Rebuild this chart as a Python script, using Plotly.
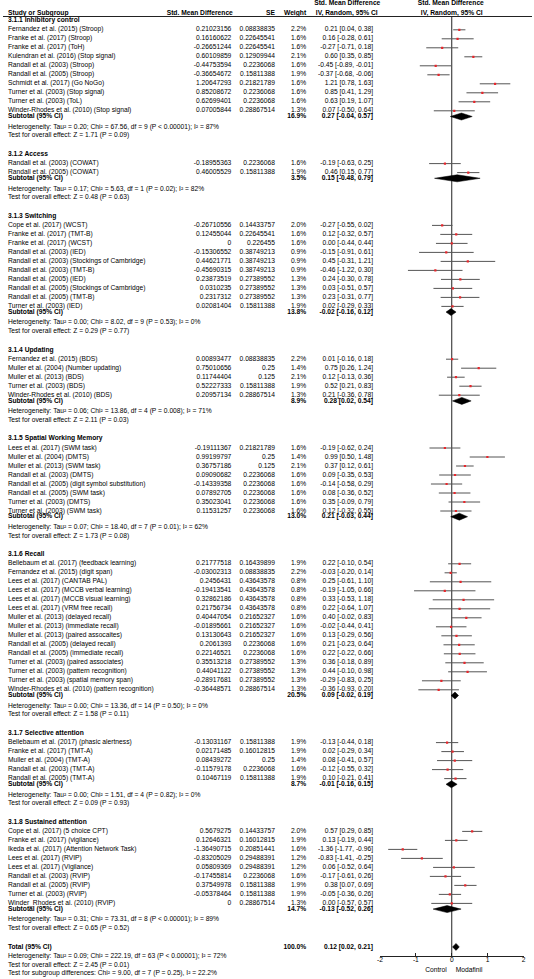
import plotly.graph_objects as go

# ---------------- data ----------------
section_titles = [
    "3.1.1 Inhibitory control", "3.1.2 Access", "3.1.3 Switching", "3.1.4 Updating",
    "3.1.5 Spatial Working Memory", "3.1.6 Recall", "3.1.7 Selective attention",
    "3.1.8 Sustained attention",
]
section_sizes = [10, 2, 10, 5, 8, 15, 5, 9]

study_names = [
    # 3.1.1
    "Fernandez et al. (2015) (Stroop)", "Franke et al. (2017) (Stroop)", "Franke et al. (2017) (ToH)",
    "Kulendran et al. (2016) (Stop signal)", "Randall et al. (2003) (Stroop)", "Randall et al. (2005) (Stroop)",
    "Schmidt et al. (2017) (Go NoGo)", "Turner et al. (2003) (Stop signal)", "Turner et al. (2003) (ToL)",
    "Winder-Rhodes et al. (2010) (Stop signal)",
    # 3.1.2
    "Randall et al. (2003) (COWAT)", "Randall et al. (2005) (COWAT)",
    # 3.1.3
    "Cope et al. (2017) (WCST)", "Franke et al. (2017) (TMT-B)", "Franke et al. (2017) (WCST)",
    "Randall et al. (2003) (IED)", "Randall et al. (2003) (Stockings of Cambridge)", "Randall et al. (2003) (TMT-B)",
    "Randall et al. (2005) (IED)", "Randall et al. (2005) (Stockings of Cambridge)", "Randall et al. (2005) (TMT-B)",
    "Turner et al. (2003) (IED)",
    # 3.1.4
    "Fernandez et al. (2015) (BDS)", "Muller et al. (2004) (Number updating)", "Muller et al. (2013) (BDS)",
    "Turner et al. (2003) (BDS)", "Winder-Rhodes et al. (2010) (BDS)",
    # 3.1.5
    "Lees et al. (2017) (SWM task)", "Muller et al. (2004) (DMTS)", "Muller et al. (2013) (SWM task)",
    "Randall et al. (2003) (DMTS)", "Randall et al. (2005) (digit symbol substitution)",
    "Randall et al. (2005) (SWM task)", "Turner et al. (2003) (DMTS)", "Turner et al. (2003) (SWM task)",
    # 3.1.6
    "Bellebaum et al. (2017) (feedback learning)", "Fernandez et al. (2015) (digit span)",
    "Lees et al. (2017) (CANTAB PAL)", "Lees et al. (2017) (MCCB verbal learning)",
    "Lees et al. (2017) (MCCB visual learning)", "Lees et al. (2017) (VRM free recall)",
    "Muller et al. (2013) (delayed recall)", "Muller et al. (2013) (immediate recall)",
    "Muller et al. (2013) (paired assocaites)", "Randall et al. (2005) (delayed recall)",
    "Randall et al. (2005) (immediate recall)", "Turner et al. (2003) (paired associates)",
    "Turner et al. (2003) (pattern recognition)", "Turner et al. (2003) (spatial memory span)",
    "Winder-Rhodes et al. (2010) (pattern recognition)",
    # 3.1.7
    "Bellebaum et al. (2017) (phasic alertness)", "Franke et al. (2017) (TMT-A)", "Muller et al. (2004) (TMT-A)",
    "Randall et al. (2003) (TMT-A)", "Randall et al. (2005) (TMT-A)",
    # 3.1.8
    "Cope et al. (2017) (5 choice CPT)", "Franke et al. (2017) (vigilance)",
    "Ikeda et al. (2017) (Attention Network Task)", "Lees et al. (2017) (RVIP)", "Lees et al. (2017) (Vigilance)",
    "Randall et al. (2003) (RVIP)", "Randall et al. (2005) (RVIP)", "Turner et al. (2003) (RVIP)",
    "Winder_Rhodes et al. (2010) (RVIP)",
]

smd = [
    0.21023156, 0.16160622, -0.26651244, 0.60109859, -0.44753594, -0.36654672, 1.20647293, 0.85208672,
    0.62699401, 0.07005844,
    -0.18955363, 0.46005529,
    -0.26710556, 0.12455044, 0, -0.15306552, 0.44621771, -0.45690315, 0.23873519, 0.0310235, 0.2317312,
    0.02081404,
    0.00893477, 0.75010656, 0.11744404, 0.52227333, 0.20957134,
    -0.19111367, 0.99199797, 0.36757186, 0.09090682, -0.14339358, 0.07892705, 0.35023041, 0.11531257,
    0.21777518, -0.03002313, 0.2456431, -0.19413541, 0.32862186, 0.21756734, 0.40447054, -0.01895661,
    0.13130643, 0.2061393, 0.22146521, 0.35513218, 0.44041122, -0.28917681, -0.36448571,
    -0.13031167, 0.02171485, 0.08439272, -0.11579178, 0.10467119,
    0.5679275, 0.12646321, -1.36490715, -0.83205029, 0.05809369, -0.17455814, 0.37549978, -0.05378464, 0,
]

se = [
    0.08838835, 0.22645541, 0.22645541, 0.12909944, 0.2236068, 0.15811388, 0.21821789, 0.2236068,
    0.2236068, 0.28867514,
    0.2236068, 0.15811388,
    0.14433757, 0.22645541, 0.226455, 0.38749213, 0.38749213, 0.38749213, 0.27389552, 0.27389552, 0.27389552,
    0.15811388,
    0.08838835, 0.25, 0.125, 0.15811388, 0.28867514,
    0.21821789, 0.25, 0.125, 0.2236068, 0.2236068, 0.2236068, 0.2236068, 0.2236068,
    0.16439899, 0.08838835, 0.43643578, 0.43643578, 0.43643578, 0.43643578, 0.21652327, 0.21652327,
    0.21652327, 0.2236068, 0.2236068, 0.27389552, 0.27389552, 0.27389552, 0.28867514,
    0.15811388, 0.16012815, 0.25, 0.2236068, 0.15811388,
    0.14433757, 0.16012815, 0.20851441, 0.29488391, 0.29488391, 0.2236068, 0.15811388, 0.15811388, 0.28867514,
]

weight = [
    2.2, 1.6, 1.6, 2.1, 1.6, 1.9, 1.6, 1.6, 1.6, 1.3,
    1.6, 1.9,
    2.0, 1.6, 1.6, 0.9, 0.9, 0.9, 1.3, 1.3, 1.3, 1.9,
    2.2, 1.4, 2.1, 1.9, 1.3,
    1.6, 1.4, 2.1, 1.6, 1.6, 1.6, 1.6, 1.6,
    1.9, 2.2, 0.8, 0.8, 0.8, 0.8, 1.6, 1.6, 1.6, 1.6, 1.6, 1.3, 1.3, 1.3, 1.3,
    1.9, 1.9, 1.4, 1.6, 1.9,
    2.0, 1.9, 1.6, 1.2, 1.2, 1.6, 1.9, 1.9, 1.3,
]

ci_low = [
    0.04, -0.28, -0.71, 0.35, -0.89, -0.68, 0.78, 0.41, 0.19, -0.50,
    -0.63, 0.15,
    -0.55, -0.32, -0.44, -0.91, -0.31, -1.22, -0.30, -0.51, -0.31, -0.29,
    -0.16, 0.26, -0.13, 0.21, -0.36,
    -0.62, 0.50, 0.12, -0.35, -0.58, -0.36, -0.09, -0.32,
    -0.10, -0.20, -0.61, -1.05, -0.53, -0.64, -0.02, -0.44, -0.29, -0.23, -0.22, -0.18, -0.10, -0.83, -0.93,
    -0.44, -0.29, -0.41, -0.55, -0.21,
    0.29, -0.19, -1.77, -1.41, -0.52, -0.61, 0.07, -0.36, -0.57,
]

ci_high = [
    0.38, 0.61, 0.18, 0.85, -0.01, -0.06, 1.63, 1.29, 1.07, 0.64,
    0.25, 0.77,
    0.02, 0.57, 0.44, 0.61, 1.21, 0.30, 0.78, 0.57, 0.77, 0.33,
    0.18, 1.24, 0.36, 0.83, 0.78,
    0.24, 1.48, 0.61, 0.53, 0.29, 0.52, 0.79, 0.55,
    0.54, 0.14, 1.10, 0.66, 1.18, 1.07, 0.83, 0.41, 0.56, 0.64, 0.66, 0.89, 0.98, 0.25, 0.20,
    0.18, 0.34, 0.57, 0.32, 0.41,
    0.85, 0.44, -0.96, -0.25, 0.64, 0.26, 0.69, 0.26, 0.57,
]

sub_weight = [16.9, 3.5, 13.8, 8.9, 13.0, 20.5, 8.7, 14.7]
sub_est = [0.27, 0.15, -0.02, 0.28, 0.21, 0.09, -0.01, -0.13]
sub_low = [-0.04, -0.48, -0.16, 0.02, -0.03, -0.02, -0.16, -0.52]
sub_high = [0.57, 0.79, 0.12, 0.54, 0.44, 0.19, 0.15, 0.26]

heterogeneity = [
    "Heterogeneity: Tau² = 0.20; Chi² = 67.56, df = 9 (P < 0.00001); I² = 87%",
    "Heterogeneity: Tau² = 0.17; Chi² = 5.63, df = 1 (P = 0.02); I² = 82%",
    "Heterogeneity: Tau² = 0.00; Chi² = 8.02, df = 9 (P = 0.53); I² = 0%",
    "Heterogeneity: Tau² = 0.06; Chi² = 13.86, df = 4 (P = 0.008); I² = 71%",
    "Heterogeneity: Tau² = 0.07; Chi² = 18.40, df = 7 (P = 0.01); I² = 62%",
    "Heterogeneity: Tau² = 0.00; Chi² = 13.36, df = 14 (P = 0.50); I² = 0%",
    "Heterogeneity: Tau² = 0.00; Chi² = 1.51, df = 4 (P = 0.82); I² = 0%",
    "Heterogeneity: Tau² = 0.31; Chi² = 73.31, df = 8 (P < 0.00001); I² = 89%",
]
overall_tests = [
    "Test for overall effect: Z = 1.71 (P = 0.09)",
    "Test for overall effect: Z = 0.48 (P = 0.63)",
    "Test for overall effect: Z = 0.29 (P = 0.77)",
    "Test for overall effect: Z = 2.11 (P = 0.03)",
    "Test for overall effect: Z = 1.73 (P = 0.08)",
    "Test for overall effect: Z = 1.58 (P = 0.11)",
    "Test for overall effect: Z = 0.09 (P = 0.93)",
    "Test for overall effect: Z = 0.65 (P = 0.52)",
]

total_weight = 100.0
total_est, total_low, total_high = 0.12, 0.02, 0.21
total_heterogeneity = "Heterogeneity: Tau² = 0.09; Chi² = 222.19, df = 63 (P < 0.00001); I² = 72%"
total_test = "Test for overall effect: Z = 2.45 (P = 0.01)"
subgroup_test = "Test for subgroup differences: Chi² = 9.00, df = 7 (P = 0.25), I² = 22.2%"

axis_ticks = [-2, -1, 0, 1, 2]
axis_tick_labels = ["-2", "-1", "0", "1", "2"]
favours_left = "Control"
favours_right = "Modafinil"

# ---------------- layout constants (pixels) ----------------
W, H = 534, 979
FONT = "Liberation Sans, Arial, sans-serif"
FS = 6.7
TXT = "#000000"
X_NAME, X_SMD, X_SE, X_W, X_CI = 5, 230.5, 274.5, 306, 373.5
X_M2, X_P2 = 380.5, 525.5      # pixel positions of -2 and +2 on forest axis
Y_AXIS = 956
Y_SEP = 16.5
PITCH = 9.0
DIAM = 3.5

def fmt_num(v):
    s = repr(float(v))
    if s.endswith(".0"):
        s = s[:-2]
    return s

def fmt_ci(e, lo, hi):
    return f"{e:.2f} [{lo:.2f}, {hi:.2f}]"

texts = {"left": ([], [], []), "right": ([], [], []), "center": ([], [], [])}

def put(x, y, s, align="left", bold=False):
    xs, ys, ts = texts[align]
    xs.append(x); ys.append(y); ts.append(f"<b>{s}</b>" if bold else s)

# header
put(X_NAME, 13, "Study or Subgroup", bold=True)
put(X_SMD + 1.5, 13, "Std. Mean Difference", "right", bold=True)
put(X_SE, 13, "SE", "right", bold=True)
put(X_W, 13, "Weight", "right", bold=True)
put(347.5, 3.5, "Std. Mean Difference", "center", bold=True)
put(347, 13, "IV, Random, 95% CI", "center", bold=True)

# forest element lists
line_x, line_y = [], []
pt_x, pt_y = [], []
dia_x, dia_y = [], []

def diamond(est, lo, hi, yy):
    dia_x.extend([lo, est, hi, est, lo, None])
    dia_y.extend([yy, yy - DIAM, yy, yy + DIAM, yy, None])

y = 20.5
idx = 0
for s, n in enumerate(section_sizes):
    put(X_NAME, y, section_titles[s], bold=True)
    yy = y + 9.3
    for k in range(n):
        i = idx + k
        put(X_NAME, yy, study_names[i])
        put(X_SMD, yy, fmt_num(smd[i]), "right")
        put(X_SE, yy, fmt_num(se[i]), "right")
        put(X_W, yy, f"{weight[i]:.1f}%", "right")
        put(X_CI, yy, fmt_ci(smd[i], ci_low[i], ci_high[i]), "right")
        line_x.extend([ci_low[i], ci_high[i], None]); line_y.extend([yy, yy, None])
        pt_x.append(smd[i]); pt_y.append(yy)
        if k < n - 1:
            yy += PITCH
    idx += n
    ys = yy + 5.7
    put(X_NAME, ys, "Subtotal (95% CI)", bold=True)
    put(X_W, ys, f"{sub_weight[s]:.1f}%", "right", bold=True)
    put(X_CI, ys, fmt_ci(sub_est[s], sub_low[s], sub_high[s]), "right", bold=True)
    diamond(sub_est[s], sub_low[s], sub_high[s], ys)
    yh = ys + 10.6
    put(X_NAME, yh, heterogeneity[s])
    yt = yh + 8.7
    put(X_NAME, yt, overall_tests[s])
    y = yt + 18.5

# total block
put(X_NAME, y, "Total (95% CI)", bold=True)
put(X_W, y, f"{total_weight:.1f}%", "right", bold=True)
put(X_CI, y, fmt_ci(total_est, total_low, total_high), "right", bold=True)
diamond(total_est, total_low, total_high, y)
put(X_NAME, y + 9.3, total_heterogeneity)
put(X_NAME, y + 18.0, total_test)
put(X_NAME, y + 26.7, subgroup_test)

# forest headers + favours labels
x0_px = X_M2 + (X_P2 - X_M2) / 2
put(x0_px - 1, 3.5, "Std. Mean Difference", "center", bold=True)
put(x0_px, 13, "IV, Random, 95% CI", "center", bold=True)
put(x0_px - 5, 970, favours_left, "right")
put(x0_px + 4, 970, favours_right, "left")

fig = go.Figure()

pos_map = {"left": "middle right", "right": "middle left", "center": "middle center"}
for align, (xs, ys_, ts) in texts.items():
    fig.add_trace(go.Scatter(
        x=xs, y=ys_, text=ts, mode="text", textposition=pos_map[align],
        textfont=dict(family=FONT, size=FS, color=TXT),
        xaxis="x", yaxis="y", hoverinfo="skip", showlegend=False, cliponaxis=False,
    ))

# zero line
fig.add_trace(go.Scatter(x=[0, 0], y=[Y_SEP, Y_AXIS], mode="lines",
                         line=dict(color="#222", width=1), xaxis="x2", yaxis="y2",
                         hoverinfo="skip", showlegend=False))
# CI lines
fig.add_trace(go.Scatter(x=line_x, y=line_y, mode="lines", line=dict(color="#555", width=1),
                         xaxis="x2", yaxis="y2", hoverinfo="skip", showlegend=False,
                         connectgaps=False))
# point estimates
fig.add_trace(go.Scatter(x=pt_x, y=pt_y, mode="markers",
                         marker=dict(symbol="square", size=2.2, color="#e8262b", line=dict(width=0)),
                         xaxis="x2", yaxis="y2", hoverinfo="skip", showlegend=False))
# diamonds
fig.add_trace(go.Scatter(x=dia_x, y=dia_y, mode="lines", fill="toself", fillcolor="#000",
                         line=dict(color="#000", width=0.5), xaxis="x2", yaxis="y2",
                         hoverinfo="skip", showlegend=False))

fig.update_layout(
    width=W, height=H, margin=dict(l=0, r=0, t=0, b=0),
    paper_bgcolor="white", plot_bgcolor="rgba(0,0,0,0)", showlegend=False,
    font=dict(family=FONT, size=FS, color=TXT),
    xaxis=dict(domain=[0, 1], range=[0, W], visible=False, fixedrange=True),
    yaxis=dict(domain=[0, 1], range=[H, 0], visible=False, fixedrange=True),
    xaxis2=dict(domain=[X_M2 / W, X_P2 / W], range=[-2, 2], anchor="y2",
                showline=True, linecolor="#222", linewidth=1, ticks="inside", ticklen=3,
                tickcolor="#222", tickwidth=1, tickvals=axis_ticks, ticktext=axis_tick_labels,
                tickfont=dict(family=FONT, size=FS, color=TXT), showgrid=False, zeroline=False,
                ticklabelstandoff=-3, fixedrange=True),
    yaxis2=dict(domain=[(H - Y_AXIS) / H, 1], range=[Y_AXIS, 0], visible=False, anchor="x2",
                fixedrange=True),
    shapes=[dict(type="line", xref="paper", yref="paper", x0=0, x1=1,
                 y0=1 - Y_SEP / H, y1=1 - Y_SEP / H, line=dict(color="#222", width=1))],
)

fig.write_html("out.html", config={"displayModeBar": False},
               post_script="document.body.style.margin='0';")
